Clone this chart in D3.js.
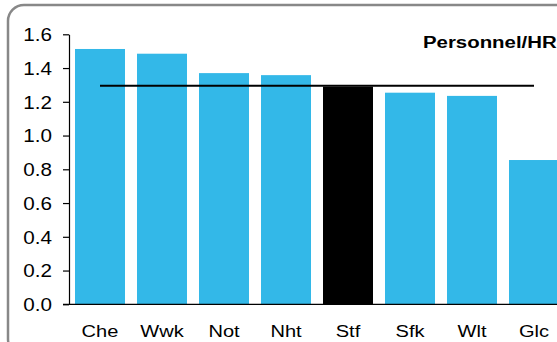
<!DOCTYPE html>
<html><head><meta charset="utf-8">
<script src="https://cdn.jsdelivr.net/npm/d3@7"></script>
<style>body{margin:0;background:#fff}svg{display:block}</style>
</head><body>
<svg id="c" width="557" height="342"></svg>
<script>
const categories = ["Che","Wwk","Not","Nht","Stf","Sfk","Wlt","Glc"];
const values = [1.513, 1.485, 1.37, 1.358, 1.29, 1.254, 1.235, 0.855];
const highlight = "Stf";
const average = 1.295;
const yTicks = [0.0,0.2,0.4,0.6,0.8,1.0,1.2,1.4,1.6];
const title = "Personnel/HR";

const FONT = "Liberation Sans, Arial, sans-serif";
const SX = 1.18;
const svg = d3.select("#c");
svg.append("rect").attr("x",8).attr("y",5).attr("width",570).attr("height",350)
  .attr("rx",16).attr("fill","#fff").attr("stroke","#888").attr("stroke-width",2.5);

const x = d3.scaleBand().domain(categories).range([69,565]).paddingInner(12/62).paddingOuter(6/62);
const y = d3.scaleLinear().domain([0,1.6]).range([304.3,34.3]);

svg.selectAll(".bar").data(categories).enter().append("rect")
  .attr("x",d=>x(d)).attr("width",x.bandwidth())
  .attr("y",(d,i)=>y(values[i])).attr("height",(d,i)=>y(0)-y(values[i]))
  .attr("fill",d=>d===highlight?"#000":"#33b8e8");

const ya = svg.append("g").attr("transform","translate(69,0)")
  .call(d3.axisLeft(y).tickValues(yTicks).tickFormat(d3.format(".1f")).tickSize(6).tickSizeOuter(0));
ya.select(".domain").attr("stroke","#000").attr("stroke-width",1.2);
ya.selectAll(".tick line").attr("stroke","#000").attr("stroke-width",1.2);
ya.selectAll("text").attr("font-family",FONT).attr("font-size",17.5)
  .attr("fill","#000").attr("x",-17/SX).attr("dy","0.36em").attr("transform",`scale(${SX},1)`);

svg.append("line").attr("x1",63).attr("x2",557).attr("y1",y(0)).attr("y2",y(0))
  .attr("stroke","#000").attr("stroke-width",1.2);

const xa = svg.append("g").attr("transform",`translate(0,${y(0)})`)
  .call(d3.axisBottom(x).tickSize(0).tickSizeOuter(0));
xa.select(".domain").remove();
xa.selectAll("text").attr("font-family",FONT).attr("font-size",17)
  .attr("fill","#000").attr("y",0).attr("dy",33).attr("transform",`scale(${SX},1)`);

svg.append("line").attr("x1",x(categories[0])+x.bandwidth()/2)
  .attr("x2",x(categories[categories.length-1])+x.bandwidth()/2)
  .attr("y1",y(average)).attr("y2",y(average)).attr("stroke","#000").attr("stroke-width",2.2);

svg.append("text").attr("transform","translate(423,48) scale(1.2,1)").attr("font-family",FONT)
  .attr("font-weight","bold").attr("font-size",17).attr("fill","#000").text(title);
</script>
</body></html>
